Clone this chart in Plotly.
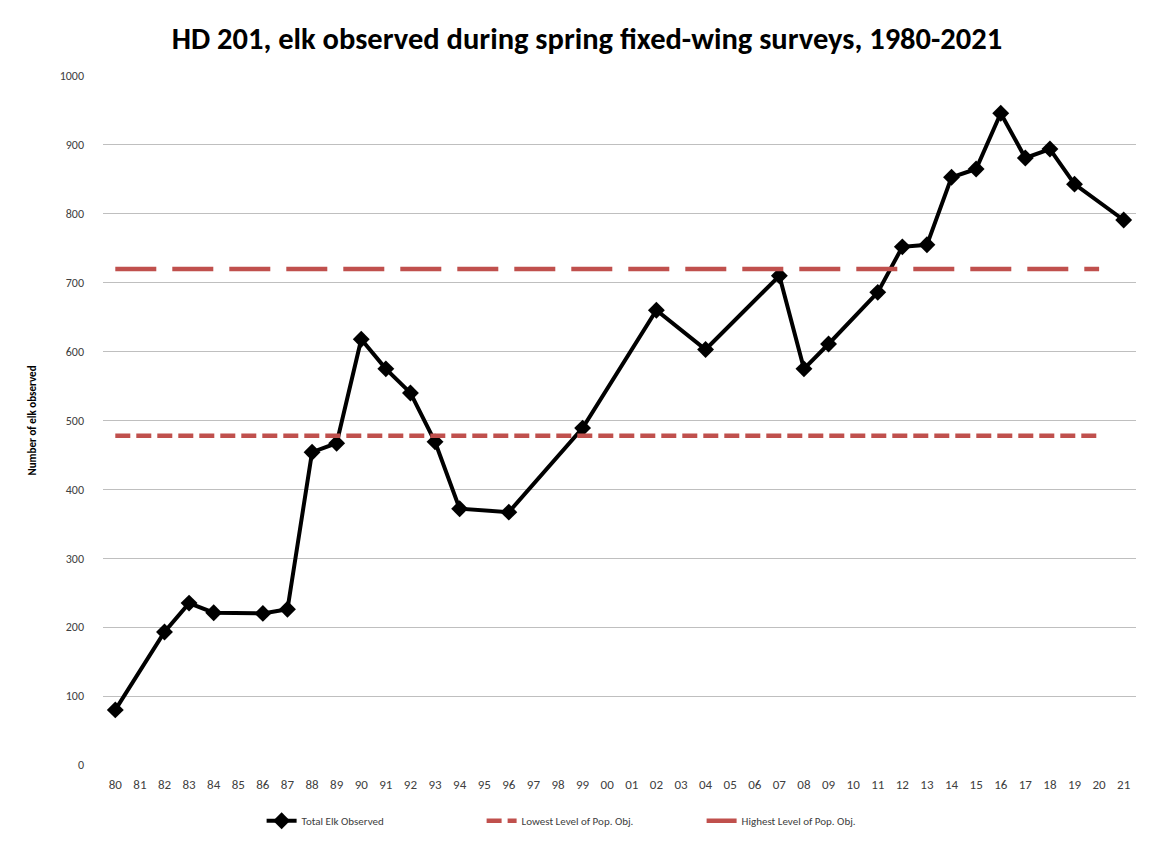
import plotly.graph_objects as go

years = ["80","81","82","83","84","85","86","87","88","89","90","91","92","93","94","95","96","97","98","99",
         "00","01","02","03","04","05","06","07","08","09","10","11","12","13","14","15","16","17","18","19","20","21"]

obs_years = ["80","82","83","84","86","87","88","89","90","91","92","93","94","96","99",
             "02","04","07","08","09","11","12","13","14","15","16","17","18","19","21"]
obs_values = [80,193,235,221,220,226,454,467,618,575,540,469,372,367,489,
              660,603,710,575,611,686,752,755,853,865,946,881,894,843,791]

obj_years = years[:-1]
lowest_level = [478] * len(obj_years)
highest_level = [720] * len(obj_years)

RED = "#C0504D"
FONT = "Carlito, 'Liberation Sans Narrow', 'Open Sans', sans-serif"

fig = go.Figure()
fig.add_trace(go.Scatter(x=obs_years, y=obs_values, mode="lines+markers", name="Total Elk Observed",
                         line=dict(color="black", width=4),
                         marker=dict(symbol="diamond", size=13, color="black")))
fig.add_trace(go.Scatter(x=obj_years, y=lowest_level, mode="lines", name="Lowest Level of Pop. Obj.",
                         line=dict(color=RED, width=4.5, dash="15px,6px")))
fig.add_trace(go.Scatter(x=obj_years, y=highest_level, mode="lines", name="Highest Level of Pop. Obj.",
                         line=dict(color=RED, width=4.5, dash="41px,16px")))

# page body has an 8px margin: figure is sized/offset to place plot area as in the reference
fig.update_layout(
    width=1151, height=826,
    paper_bgcolor="white", plot_bgcolor="white",
    margin=dict(l=95, r=23, t=68, b=69, autoexpand=False),
    font=dict(family=FONT, color="#404040"),
    title=dict(text="<b>HD 201, elk observed during spring fixed-wing surveys, 1980-2021</b>",
               x=0.503, xanchor="center", y=0.963, yanchor="middle",
               font=dict(size=30.5, color="black", family=FONT)),
    showlegend=True,
    legend=dict(orientation="h", x=0.473, xanchor="center", yref="container", y=0.016, yanchor="middle",
                font=dict(size=11, color="#404040"), entrywidth=175, entrywidthmode="pixels"),
    xaxis=dict(type="category", categoryorder="array", categoryarray=years,
               range=[-0.5, 41.5], showgrid=False, showline=False, zeroline=False,
               ticks="", ticklabelstandoff=10, tickfont=dict(size=13, color="#404040")),
    yaxis=dict(range=[0, 1000], dtick=100, showgrid=True, gridcolor="#BFBFBF", gridwidth=1.3,
               zeroline=False, showline=False, ticks="", ticklabelstandoff=18,
               tickfont=dict(size=12, color="#404040"),
               title=dict(text="<b>Number of elk observed</b>", standoff=20,
                          font=dict(size=11, color="black"))),
)

fig.write_html("out.html")
